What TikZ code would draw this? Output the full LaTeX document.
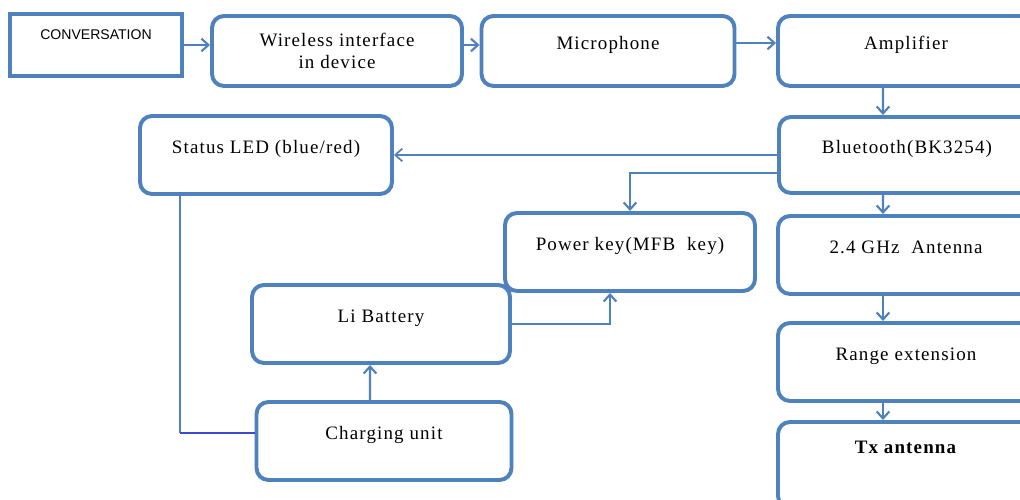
\documentclass[tikz,border=0pt]{standalone}
\usepackage{fontspec}
\setmainfont{Liberation Serif}[LetterSpace=6]
\newfontfamily\convfont{Liberation Sans}
\usetikzlibrary{arrows.meta}
\definecolor{boxblue}{RGB}{79,129,189}
\definecolor{linkblue}{RGB}{64,72,204}
\begin{document}
\begin{tikzpicture}[>={Straight Barb[length=5pt,width=9pt]},
    blk/.style={draw=boxblue, line width=2.8pt, rounded corners=0.3cm, minimum width=6.3cm, minimum height=1.95cm, font=\fontsize{13.5}{16}\selectfont, text height=10pt, text depth=12pt},
    link/.style={->, boxblue, line width=1.5pt}]
    \useasboundingbox (0,0) rectangle (25.5,12.475);
    % Top row
    \node[draw=boxblue, line width=2.8pt, minimum width=4.3cm, minimum height=1.55cm, font=\convfont\fontsize{10}{12}\selectfont, text height=7pt, text depth=15pt] (conv) at (2.4, 11.35) {CONVERSATION};
    \node[blk, minimum width=6.25cm, minimum height=1.75cm, align=center, text height=28pt, text depth=3pt] (wireless) at (8.425, 11.2) {Wireless interface\\in device};
    \node[blk, minimum width=6.325cm, minimum height=1.75cm] (micro) at (15.2, 11.2) {Microphone};
    \node[blk, minimum width=6.4cm, minimum height=1.75cm] (ampl) at (22.65, 11.2) {Amplifier};
    
    % Right column
    \node[blk, minimum width=6.4cm, minimum height=1.9cm] (bt) at (22.675, 8.6) {Bluetooth(BK3254)};
    \node[blk, minimum width=6.4cm] (ghz) at (22.65, 6.1) {2.4 GHz~~Antenna};
    \node[blk, minimum width=6.4cm] (range) at (22.65, 3.425) {Range extension};
    \node[blk, minimum width=6.4cm, minimum height=2.15cm, text depth=27pt] (tx) at (22.65, 0.85) {\textbf{Tx antenna}};
    
    % Left part
    \node[blk] (led) at (6.65, 8.6) {Status LED (blue/red)};
    \node[blk, minimum width=6.25cm] (pk) at (15.75, 6.175) {Power key(MFB~~key)};
    \node[blk, minimum width=6.45cm] (batt) at (9.525, 4.375) {Li Battery};
    \node[blk, minimum width=6.375cm] (charge) at (9.6, 1.45) {Charging unit};
    
    \draw[link] (conv.east) -- (conv.east -| wireless.west);
    \draw[link] (conv.east -| wireless.east) -- (conv.east -| micro.west);
    \draw[link] ([yshift=0.2cm]micro.east) -- ([yshift=0.2cm]micro.east -| ampl.west);
    \draw[link] ([xshift=-0.575cm]ampl.south) -- ([xshift=-0.6cm]bt.north);
    \draw[link, line width=1.2pt] (bt.west) -- (led.east);
    \draw[link] ([yshift=-0.45cm]bt.west) -| (pk.north);
    \draw[link] ([xshift=-0.6cm]bt.south) -- ([xshift=-0.575cm]ghz.north);
    \draw[link] ([xshift=-0.575cm]ghz.south) -- ([xshift=-0.575cm]range.north);
    \draw[link] ([xshift=-0.575cm]range.south) -- ([xshift=-0.575cm]tx.north);
    \draw[link] (batt.east) -| ([xshift=-0.5cm]pk.south);
    \draw[link] ([xshift=-0.35cm]charge.north) -- ([xshift=-0.275cm]batt.south);
    
    % LED to charging unit
    \coordinate (chgin) at ([yshift=0.2cm]charge.west);
    \draw[boxblue, line width=1pt] ([xshift=-2.15cm]led.south) -- ([xshift=-2.15cm]led.south |- chgin) coordinate (ledcorner);
    \draw[linkblue, line width=1.4pt] (ledcorner) -- (chgin);
\end{tikzpicture}
\end{document}
